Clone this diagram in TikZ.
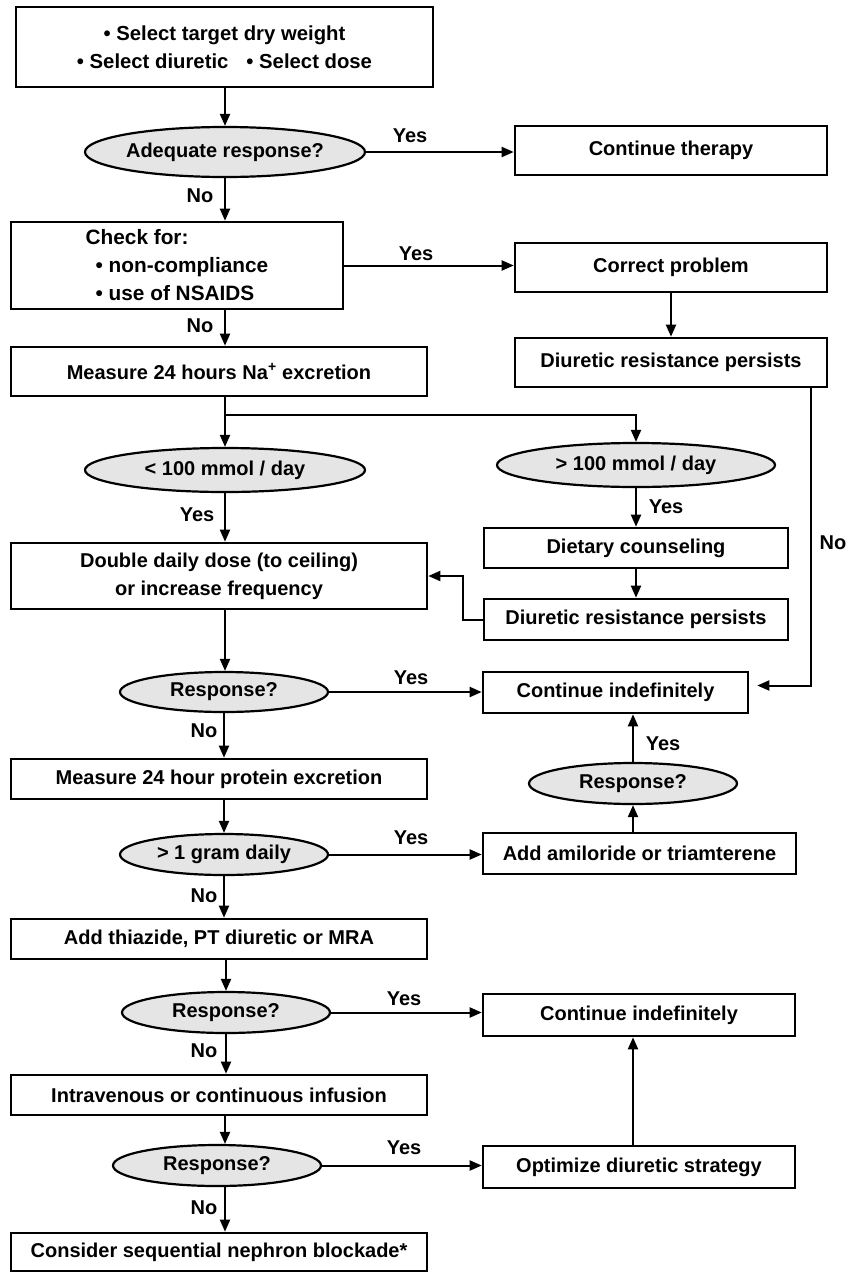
\documentclass[tikz,border=0pt]{standalone}
\usepackage{fontspec}
\setmainfont{Liberation Sans}
\usetikzlibrary{arrows.meta,shapes.geometric}

\begin{document}
\begin{tikzpicture}[x=1pt,y=-1pt,
		every node/.style={font=\fontsize{20}{28}\selectfont\bfseries},
		stepbox/.style={draw,line width=2.6pt,inner sep=0pt,align=center},
		bigbox/.style={stepbox,font=\fontsize{20.8}{28}\selectfont\bfseries},
		query/.style={ellipse,draw,line width=2.2pt,fill=black!10,inner sep=0pt},
		flow/.style={-{Triangle[length=12pt,width=10pt]},line width=2pt},
		tag/.style={inner sep=0pt}]
	\useasboundingbox (0,0) rectangle (846,1272);
	\node[stepbox,font=\fontsize{20.3}{28}\selectfont\bfseries,minimum width=417,minimum height=80] (select) at (224.5,47) {\textbullet\ Select target dry weight\\\textbullet\ Select diuretic\hspace{18pt}\textbullet\ Select dose};
	\node[query,minimum width=280,minimum height=50] (adequate) at (225,152) {Adequate response?};
	\node[stepbox,minimum width=312,minimum height=49] (therapy) at (671,150.5) {Continue therapy};
	\node[bigbox,minimum width=332,minimum height=87,align=left] (check) at (177,265.5) {Check for:\\\hspace*{10pt}\textbullet\ non-compliance\\\hspace*{10pt}\textbullet\ use of NSAIDS\hspace*{14pt}};
	\node[stepbox,minimum width=312,minimum height=49] (correct) at (671,267.5) {Correct problem};
	\node[stepbox,minimum width=312,minimum height=49] (persist) at (671,362.5) {Diuretic resistance persists};
	\node[stepbox,minimum width=416,minimum height=49] (sodium) at (219,371.5) {Measure 24 hours Na\textsuperscript{+} excretion};
	\node[query,minimum width=280,minimum height=44] (low) at (225,470) {< 100 mmol / day};
	\node[query,minimum width=278,minimum height=44] (high) at (636,465) {> 100 mmol / day};
	\node[stepbox,minimum width=304,minimum height=40] (diet) at (636,548) {Dietary counseling};
	\node[stepbox,minimum width=304,minimum height=41] (persistb) at (636,619.5) {Diuretic resistance persists};
	\node[stepbox,minimum width=416,minimum height=66] (double) at (219,576) {Double daily dose (to ceiling)\\or increase frequency};
	\node[query,minimum width=208,minimum height=40] (resp) at (224,692) {Response?};
	\node[stepbox,minimum width=265,minimum height=41] (indef) at (615.5,692.5) {Continue indefinitely};
	\node[query,minimum width=208,minimum height=41] (respb) at (633,783.5) {Response?};
	\node[stepbox,minimum width=416,minimum height=40] (protein) at (219,779) {Measure 24 hour protein excretion};
	\node[query,minimum width=208,minimum height=41] (gram) at (224,854.5) {> 1 gram daily};
	\node[stepbox,minimum width=313,minimum height=41] (amil) at (639.5,853.5) {Add amiloride or triamterene};
	\node[stepbox,minimum width=416,minimum height=40] (thiazide) at (219,939) {Add thiazide, PT diuretic or MRA};
	\node[query,minimum width=208,minimum height=41] (respc) at (226,1012.5) {Response?};
	\node[stepbox,minimum width=312,minimum height=42] (indefb) at (639,1015) {Continue indefinitely};
	\node[stepbox,minimum width=416,minimum height=40] (infusion) at (219,1095) {Intravenous or continuous infusion};
	\node[query,minimum width=208,minimum height=41] (respd) at (217,1165.5) {Response?};
	\node[stepbox,minimum width=312,minimum height=42] (optimize) at (639,1167) {Optimize diuretic strategy};
	\node[stepbox,minimum width=416,minimum height=38] (consider) at (219,1252) {Consider sequential nephron blockade*};
	\coordinate (split) at (225,415);
	\node[tag] (yesa) at (410,136) {Yes};
	\node[tag] (noa) at (200,196) {No};
	\node[tag] (yesb) at (416,254) {Yes};
	\node[tag] (nob) at (200,326) {No};
	\node[tag] (yesc) at (197,515) {Yes};
	\node[tag] (yesd) at (666,507) {Yes};
	\node[tag] (noc) at (833,543) {No};
	\node[tag] (yese) at (411,678) {Yes};
	\node[tag] (nod) at (204,731) {No};
	\node[tag] (yesf) at (663,744) {Yes};
	\node[tag] (yesg) at (411,838) {Yes};
	\node[tag] (noe) at (204,896) {No};
	\node[tag] (yesh) at (404,999) {Yes};
	\node[tag] (nof) at (204,1051) {No};
	\node[tag] (yesi) at (404,1148) {Yes};
	\node[tag] (nog) at (204,1208) {No};
	\draw[flow] (select.south -| adequate) -- (adequate.north);
	\draw[flow] (adequate.east) -- (adequate.east -| therapy.west);
	\draw[flow] (adequate.south) -- (adequate.south |- check.north);
	\draw[flow] (check.east) -- (check.east -| correct.west);
	\draw[flow] (correct.south) -- (persist.north);
	\draw[flow] (check.south -| adequate) -- (sodium.north -| adequate);
	\draw[flow] (sodium.south -| low) -- (low.north);
	\draw[flow] (split) -| (high.north);
	\draw[flow] (low.south) -- (low.south |- double.north);
	\draw[flow] (high.south) -- (diet.north);
	\draw[flow] (diet.south) -- (persistb.north);
	\draw[flow] (persistb.west) -- ++(-20,0) |- (double.east);
	\draw[flow] (double.south -| low) -- (resp.north -| low);
	\draw[flow] (resp.east) -- (resp.east -| indef.west);
	\draw[flow] ([xshift=-17]persist.south east) |- ([shift={(8,-7)}]indef.east);
	\draw[flow] (resp.south) -- (resp.south |- protein.north);
	\draw[flow] (protein.south -| resp) -- (gram.north);
	\draw[flow] (gram.east) -- (gram.east -| amil.west);
	\draw[flow] (amil.north -| respb) -- (respb.south);
	\draw[flow] (respb.north) -- (respb.north |- indef.south);
	\draw[flow] (gram.south) -- (gram.south |- thiazide.north);
	\draw[flow] (thiazide.south -| respc) -- (respc.north);
	\draw[flow] (respc.east) -- (respc.east -| indefb.west);
	\draw[flow] (respc.south) -- (respc.south |- infusion.north);
	\draw[flow] (infusion.south -| adequate) -- (respd.north -| adequate);
	\draw[flow] (respd.east) -- (respd.east -| optimize.west);
	\draw[flow] (respd.south -| adequate) -- (consider.north -| adequate);
	\draw[flow] (optimize.north -| respb) -- (indefb.south -| respb);
\end{tikzpicture}
\end{document}
